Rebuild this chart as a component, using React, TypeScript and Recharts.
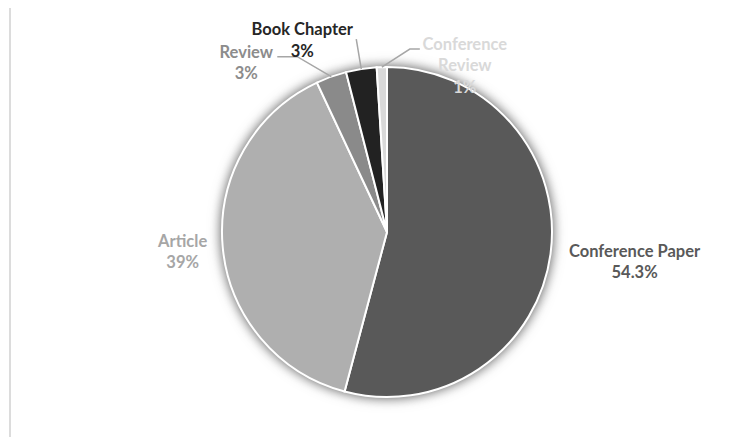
import { PieChart, Pie, Cell } from 'recharts';

const categories = ['Conference Paper', 'Article', 'Review', 'Book Chapter', 'Conference Review'];
const shares = [54.3, 39, 3, 3, 1];
const shareLabels = ['54.3%', '39%', '3%', '3%', '1%'];
const nameLines = [['Conference Paper'], ['Article'], ['Review'], ['Book Chapter'], ['Conference', 'Review']];
const sliceColors = ['#595959', '#afafaf', '#8a8a8a', '#222222', '#d9d9d9'];
const textColors = ['#595959', '#a6a6a6', '#8c8c8c', '#262626', '#d9d9d9'];

const data = categories.map((name, i) => ({ name, value: shares[i] }));

// where each label sits relative to its slice's outer midpoint, plus optional leader bends
const labelLayout = [
  { dx: 84, dy: 8, leader: [] as number[][] },
  { dx: -40, dy: 5, leader: [] as number[][] },
  { dx: -85, dy: -14, leader: [[-34, -20], [-54, -20]] },
  { dx: -59, dy: -29, leader: [[-5, -30]] },
  { dx: 83, dy: -2, leader: [[28, -18], [38, -18]] },
];

const RAD = Math.PI / 180;
const LINE_H = 21.5;

function renderLabel(props: any) {
  const { cx, cy, midAngle, outerRadius, index } = props;
  const ex = cx + outerRadius * Math.cos(-midAngle * RAD);
  const ey = cy + outerRadius * Math.sin(-midAngle * RAD);
  const lay = labelLayout[index];
  const lines = [...nameLines[index], shareLabels[index]];
  const tx = ex + lay.dx;
  const ty = ey + lay.dy;
  const top = ty - ((lines.length - 1) / 2) * LINE_H;
  const pts = [[ex, ey], ...lay.leader.map(([a, b]) => [ex + a, ey + b])];
  return (
    <g key={`lbl-${index}`}>
      {lay.leader.length > 0 && (
        <polyline
          points={pts.map((p) => p.join(',')).join(' ')}
          fill="none"
          stroke="#a6a6a6"
          strokeWidth={1.5}
        />
      )}
      <text
        x={tx}
        y={top}
        textAnchor="middle"
        dominantBaseline="central"
        fill={textColors[index]}
        style={{ fontFamily: 'Lato, sans-serif', fontWeight: 700, fontSize: 16.5 }}
      >
        {lines.map((l, k) => (
          <tspan key={k} x={tx} dy={k === 0 ? 0 : LINE_H}>
            {l}
          </tspan>
        ))}
      </text>
    </g>
  );
}

export default function App() {
  return (
    <div style={{ position: 'relative', width: 744, height: 445, margin: -8, overflow: 'hidden', background: '#fff' }}>
      <style>{'.pie-shadow{filter:drop-shadow(0 0 6px rgba(0,0,0,0.4))}'}</style>
      <div
        style={{
          position: 'absolute',
          left: 9,
          top: 6,
          width: 800,
          height: 500,
          border: '2px solid #dcdcdc',
        }}
      />
      <div style={{ position: 'absolute', left: 0, top: 0 }}>
        <PieChart width={744} height={445}>
          <Pie
            className="pie-shadow"
            data={data}
            dataKey="value"
            nameKey="name"
            cx={382}
            cy={227}
            outerRadius={165}
            startAngle={90}
            endAngle={-270}
            stroke="none"
            isAnimationActive={false}
            label={false}
            labelLine={false}
          >
            {data.map((d, i) => (
              <Cell key={d.name} fill={sliceColors[i]} />
            ))}
          </Pie>
          <Pie
            data={data}
            dataKey="value"
            nameKey="name"
            cx={382}
            cy={227}
            outerRadius={165}
            startAngle={90}
            endAngle={-270}
            stroke="#ffffff"
            strokeWidth={2}
            isAnimationActive={false}
            label={renderLabel}
            labelLine={false}
          >
            {data.map((d, i) => (
              <Cell key={d.name} fill={sliceColors[i]} />
            ))}
          </Pie>
        </PieChart>
      </div>
    </div>
  );
}
